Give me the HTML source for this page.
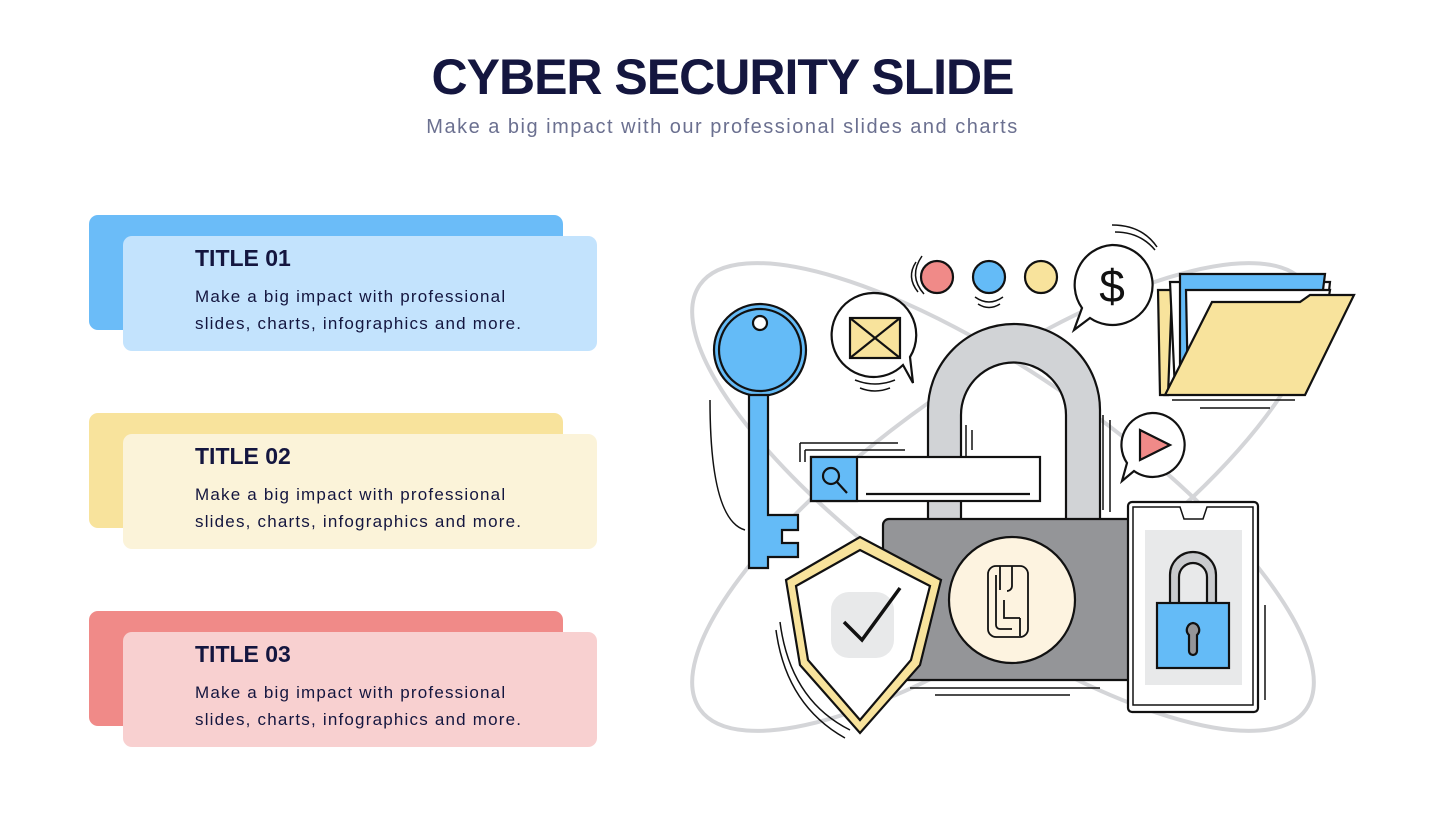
<!DOCTYPE html>
<html><head><meta charset="utf-8"><style>
body{margin:0;width:1445px;height:813px;background:#fff;position:relative;overflow:hidden;font-family:"Liberation Sans",sans-serif}
.t{position:absolute;left:0;width:1445px;text-align:center}
.h{top:48px;font-size:50px;font-weight:bold;color:#14163f;letter-spacing:-1px}
.s{top:116px;font-size:20px;color:#6b7090;letter-spacing:1.5px}
.b{position:absolute;width:474px;height:115px;border-radius:9px}
.ct{position:absolute;left:195px;font-weight:bold;font-size:23px;color:#14163f}
.cx{position:absolute;left:195px;font-size:17px;line-height:27px;color:#14163f;letter-spacing:1.2px;white-space:nowrap}
</style></head><body>
<div class="t h">CYBER SECURITY SLIDE</div>
<div class="t s">Make a big impact with our professional slides and charts</div>

<div class="b" style="left:89px;top:215px;background:#6bbcf8"></div>
<div class="b" style="left:123px;top:236px;background:#c3e3fd"></div>
<div class="ct" style="top:245px">TITLE 01</div>
<div class="cx" style="top:283px">Make a big impact with professional<br>slides, charts, infographics and more.</div>

<div class="b" style="left:89px;top:413px;background:#f8e39c"></div>
<div class="b" style="left:123px;top:434px;background:#fbf3d9"></div>
<div class="ct" style="top:443px">TITLE 02</div>
<div class="cx" style="top:481px">Make a big impact with professional<br>slides, charts, infographics and more.</div>

<div class="b" style="left:89px;top:611px;background:#f08a88"></div>
<div class="b" style="left:123px;top:632px;background:#f8d0d0"></div>
<div class="ct" style="top:641px">TITLE 03</div>
<div class="cx" style="top:679px">Make a big impact with professional<br>slides, charts, infographics and more.</div>

<svg width="1445" height="813" style="position:absolute;left:0;top:0" stroke="#111" stroke-width="2.2" fill="none">
<g stroke="#d4d5d8" stroke-width="4">
<ellipse cx="1003" cy="497" rx="370" ry="120" transform="rotate(35 1003 497)"/>
<ellipse cx="1003" cy="497" rx="370" ry="120" transform="rotate(-35 1003 497)"/>
</g>
<!-- key -->
<g fill="#64bbf7">
<circle cx="760" cy="350" r="46"/>
<circle cx="760" cy="350" r="41" fill="none"/>
<path d="M749 395 V568 H768 V557 H798 V543 H782 V530 H798 V515 H768 V395 Z"/>
</g>
<circle cx="760" cy="323" r="7" fill="#fff"/>
<path d="M710 400 Q710 520 745 530" stroke-width="1.5"/>
<!-- envelope bubble -->
<path d="M873 293 a42 42 0 1 0 30 72 l10 18 l-3 -26 a42 42 0 0 0 -37 -64z" fill="#fff"/>
<rect x="850" y="318" width="50" height="40" fill="#f8e39c"/>
<path d="M850 318 L900 358 M900 318 L850 358"/>
<path d="M855 380 q20 8 40 0 M860 388 q15 6 30 0" stroke-width="1.5"/>
<!-- dots -->
<circle cx="937" cy="277" r="16" fill="#f08a88"/>
<circle cx="989" cy="277" r="16" fill="#64bbf7"/>
<circle cx="1041" cy="277" r="16" fill="#f8e39c"/>
<path d="M916 262 q-10 15 2 30 M922 256 q-14 20 2 38" stroke-width="1.5"/>
<path d="M975 297 q14 10 28 0 M978 304 q11 7 22 0" stroke-width="1.5"/>
<!-- dollar bubble -->
<path d="M1112 245 a40 40 0 1 1 -22 73 l-16 12 l8 -22 a40 40 0 0 1 30 -63z" fill="#fff"/>
<text x="1112" y="302" font-family="Liberation Sans" font-size="46" text-anchor="middle" fill="#111" stroke="none">$</text>
<path d="M1115 232 q25 0 40 18 M1112 225 q30 0 45 22" stroke-width="1.5"/>
<!-- folder -->
<path d="M1158 290 L1172 290 L1168 395 L1160 395Z" fill="#f8e39c"/>
<path d="M1170 282 L1330 282 L1328 300 L1175 390Z" fill="#fff"/>
<path d="M1180 274 L1325 274 L1323 290 L1180 390Z" fill="#64bbf7"/>
<path d="M1186 290 L1330 290 L1328 302 L1188 390Z" fill="#fff"/>
<path d="M1165 395 L1212 302 L1300 302 L1310 295 L1354 295 L1305 395Z" fill="#f8e39c"/>
<path d="M1172 400 H1295 M1200 408 H1270" stroke-width="1.5"/>
<!-- play bubble -->
<path d="M1152 413 a32 32 0 1 1 -18 58 l-12 10 l5 -18 a32 32 0 0 1 25 -50z" fill="#fff"/>
<path d="M1140 430 L1170 445 L1140 460Z" fill="#f08a88"/>
<!-- shackle -->
<path d="M928 520 V410 a86 86 0 0 1 172 0 V520 H1066 V415 a52 52 0 0 0 -105 0 V520Z" fill="#d1d3d6"/>
<path d="M966 425 V460 M972 430 V450 M1103 415 V510 M1110 420 V512" stroke-width="1.5"/>
<!-- search bar -->
<path d="M800 443 H898 M805 450 H905 M800 443 V462 M805 450 V462" stroke-width="1.5"/>
<rect x="811" y="457" width="229" height="44" fill="#fff"/>
<rect x="811" y="457" width="46" height="44" fill="#64bbf7"/>
<circle cx="831" cy="476" r="8"/>
<path d="M837 482 L847 493 M866 494 H1030"/>
<!-- lock body -->
<rect x="883" y="519" width="257" height="161" rx="6" fill="#949598"/>
<circle cx="1012" cy="600" r="63" fill="#fdf3e0"/>
<path d="M1000 566 h20 a8 8 0 0 1 8 8 v55 a8 8 0 0 1 -8 8 h-24 a8 8 0 0 1 -8 -8 v-55 a8 8 0 0 1 8 -8z M1000 566 v24 M1012 566 v20 a5 5 0 0 1 -5 5 M996 575 v50 a4 4 0 0 0 4 4 h12 M1004 600 v18 h16 M1020 618 v18" stroke-width="1.8"/>
<path d="M910 688 H1100 M935 695 H1070" stroke-width="1.5"/>
<!-- shield -->
<path d="M786 580 L860 537 L941 580 L920 665 L860 733 L800 665Z" fill="#f8e39c"/>
<path d="M796 586 L860 550 L930 586 L911 660 L860 720 L808 660Z" fill="#fff"/>
<rect x="831" y="592" width="63" height="66" rx="18" fill="#e8e9ea" stroke="none"/>
<path d="M844 622 L862 640 L900 588" stroke-width="3.5"/>
<path d="M780 622 Q790 700 850 730 M776 630 Q786 705 845 738" stroke-width="1.5"/>
<!-- phone -->
<rect x="1128" y="502" width="130" height="210" rx="4" fill="#fff"/>
<path d="M1133 507 H1180 L1184 519 H1203 L1207 507 H1253 V705 H1133Z" fill="#fff" stroke-width="1.5"/>
<rect x="1145" y="530" width="97" height="155" fill="#e8e9ea" stroke="none"/>
<path d="M1170 605 V575 a23 23 0 0 1 46 0 V605 H1207 V577 a14 14 0 0 0 -28 0 V605Z" fill="#c9cbce"/>
<rect x="1157" y="603" width="72" height="65" fill="#64bbf7"/>
<path d="M1193 623 a7 7 0 0 1 4 12 v16 a4 4 0 0 1 -8 0 v-16 a7 7 0 0 1 4 -12z" fill="#949598"/>
<path d="M1265 605 V700" stroke-width="1.5"/>
</svg>
</body></html>
